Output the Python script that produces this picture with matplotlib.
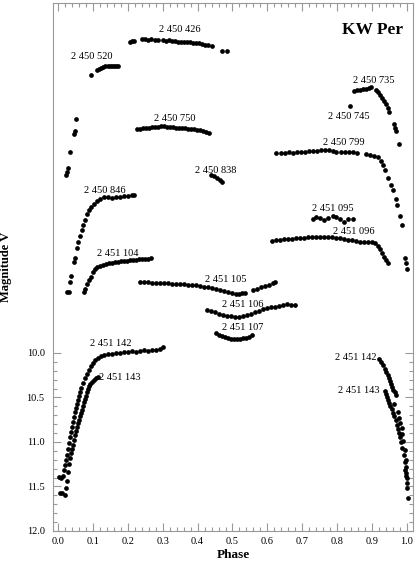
import numpy as np
import matplotlib
matplotlib.use('Agg')
import matplotlib.pyplot as plt
from matplotlib.ticker import FixedLocator, MultipleLocator

plt.rcParams['font.family'] = ['Liberation Serif', 'DejaVu Serif']

# light curves of KW Per, one per night (JD 2 45x xxx), phase / V magnitude
p426 = [0.206, 0.212, 0.218, 0.241, 0.249, 0.258, 0.266, 0.278, 0.287, 0.301, 0.309, 0.318, 0.327, 0.335,
        0.344, 0.352, 0.361, 0.370, 0.378, 0.387, 0.395, 0.404, 0.413, 0.421, 0.430, 0.441, 0.470, 0.484]
m426 = [6.50, 6.49, 6.49, 6.47, 6.47, 6.48, 6.47, 6.48, 6.48, 6.48, 6.49, 6.48, 6.49, 6.49,
        6.50, 6.50, 6.51, 6.51, 6.50, 6.52, 6.52, 6.52, 6.53, 6.54, 6.54, 6.55, 6.61, 6.61]

p520 = [0.095, 0.112, 0.117, 0.123, 0.129, 0.135, 0.143, 0.149, 0.155, 0.161, 0.166, 0.172]
m520 = [6.88, 6.82, 6.81, 6.80, 6.79, 6.78, 6.77, 6.77, 6.78, 6.78, 6.78, 6.77]

p750 = [0.023, 0.026, 0.029, 0.034, 0.046, 0.049, 0.052,
        0.226, 0.235, 0.244, 0.252, 0.261, 0.269, 0.278, 0.287, 0.295, 0.304, 0.312, 0.321, 0.330,
        0.338, 0.347, 0.355, 0.364, 0.372, 0.381, 0.390, 0.398, 0.407, 0.415, 0.424, 0.433]
m750 = [8.00, 7.97, 7.92, 7.74, 7.54, 7.51, 7.37,
        7.48, 7.48, 7.47, 7.47, 7.47, 7.46, 7.46, 7.46, 7.45, 7.45, 7.46, 7.46, 7.46,
        7.47, 7.47, 7.47, 7.47, 7.48, 7.48, 7.48, 7.49, 7.49, 7.51, 7.52, 7.53]

p838 = [0.438, 0.447, 0.456, 0.464, 0.470]
m838 = [8.00, 8.01, 8.03, 8.06, 8.08]

p735 = [0.848, 0.857, 0.865, 0.874, 0.883, 0.891, 0.897, 0.911, 0.917, 0.923, 0.928, 0.934, 0.940,
        0.946, 0.948, 0.963, 0.966, 0.968, 0.977]
m735 = [7.06, 7.05, 7.05, 7.03, 7.03, 7.02, 7.01, 7.05, 7.07, 7.10, 7.14, 7.17, 7.20,
        7.25, 7.29, 7.43, 7.47, 7.51, 7.65]

p745 = [0.837]
m745 = [7.225]

p799 = [0.625, 0.639, 0.650, 0.662, 0.673, 0.685, 0.696, 0.708, 0.719, 0.731, 0.742, 0.754, 0.765, 0.777,
        0.788, 0.797, 0.811, 0.822, 0.834, 0.845, 0.857, 0.883, 0.894, 0.905, 0.917, 0.926, 0.931, 0.937,
        0.946, 0.954, 0.960, 0.968, 0.971, 0.980, 0.986]
m799 = [7.75, 7.75, 7.75, 7.74, 7.75, 7.74, 7.74, 7.74, 7.73, 7.73, 7.73, 7.72, 7.72, 7.72,
        7.73, 7.74, 7.74, 7.74, 7.74, 7.74, 7.75, 7.76, 7.78, 7.79, 7.80, 7.84, 7.89, 7.94,
        8.03, 8.11, 8.17, 8.27, 8.34, 8.46, 8.56]

p846 = [0.026, 0.032, 0.034, 0.037, 0.046, 0.049, 0.054, 0.057, 0.063, 0.069, 0.072, 0.077, 0.083, 0.089,
        0.095, 0.103, 0.112, 0.120, 0.132, 0.143, 0.155, 0.166, 0.178, 0.189, 0.201, 0.212, 0.218]
m846 = [9.32, 9.32, 9.20, 9.14, 8.98, 8.93, 8.82, 8.75, 8.69, 8.62, 8.56, 8.51, 8.44, 8.39,
        8.36, 8.33, 8.29, 8.27, 8.25, 8.25, 8.26, 8.25, 8.25, 8.24, 8.24, 8.23, 8.23]

p095 = [0.731, 0.739, 0.751, 0.762, 0.774, 0.788, 0.797, 0.808, 0.819, 0.831, 0.845]
m095 = [8.49, 8.47, 8.48, 8.51, 8.48, 8.46, 8.47, 8.49, 8.53, 8.49, 8.49]

p096 = [0.613, 0.625, 0.636, 0.648, 0.659, 0.670, 0.682, 0.693, 0.705, 0.716, 0.728, 0.739, 0.751, 0.762,
        0.774, 0.785, 0.797, 0.808, 0.819, 0.831, 0.842, 0.854, 0.865, 0.877, 0.888, 0.900, 0.908, 0.917,
        0.923, 0.928, 0.934, 0.940, 0.946, 0.994, 0.997, 1.000]
m096 = [8.74, 8.73, 8.73, 8.72, 8.72, 8.72, 8.71, 8.71, 8.71, 8.70, 8.70, 8.70, 8.70, 8.70,
        8.70, 8.70, 8.71, 8.71, 8.72, 8.73, 8.73, 8.74, 8.75, 8.75, 8.75, 8.75, 8.76, 8.80,
        8.83, 8.88, 8.92, 8.96, 8.99, 8.93, 8.99, 9.06]

p104 = [0.074, 0.077, 0.083, 0.089, 0.095, 0.100, 0.106, 0.112, 0.120, 0.129, 0.138, 0.146, 0.155,
        0.163, 0.172, 0.181, 0.189, 0.198, 0.206, 0.215, 0.224, 0.232, 0.241, 0.249, 0.258, 0.266]
m104 = [9.32, 9.28, 9.23, 9.18, 9.15, 9.09, 9.06, 9.03, 9.02, 9.01, 9.00, 8.99, 8.99,
        8.98, 8.98, 8.97, 8.97, 8.97, 8.96, 8.96, 8.96, 8.94, 8.94, 8.94, 8.94, 8.93]

p105 = [0.235, 0.246, 0.258, 0.269, 0.281, 0.292, 0.304, 0.315, 0.327, 0.338, 0.350, 0.361, 0.372,
        0.384, 0.395, 0.407, 0.418, 0.430, 0.441, 0.453, 0.464, 0.476, 0.487, 0.499, 0.510, 0.519,
        0.527, 0.536, 0.559, 0.570, 0.582, 0.593, 0.605, 0.616, 0.622]
m105 = [9.20, 9.20, 9.20, 9.21, 9.21, 9.21, 9.21, 9.21, 9.22, 9.22, 9.22, 9.22, 9.24,
        9.24, 9.24, 9.25, 9.26, 9.26, 9.27, 9.28, 9.29, 9.30, 9.31, 9.33, 9.34, 9.34,
        9.33, 9.33, 9.29, 9.28, 9.26, 9.25, 9.24, 9.21, 9.20]

p106 = [0.427, 0.438, 0.450, 0.461, 0.473, 0.484, 0.496, 0.507, 0.519, 0.530, 0.542, 0.553,
        0.564, 0.576, 0.587, 0.599, 0.610, 0.622, 0.633, 0.645, 0.656, 0.668, 0.679]
m106 = [9.52, 9.53, 9.54, 9.56, 9.57, 9.58, 9.58, 9.60, 9.60, 9.58, 9.57, 9.56,
        9.54, 9.53, 9.51, 9.49, 9.48, 9.48, 9.47, 9.46, 9.45, 9.46, 9.46]

p107 = [0.453, 0.461, 0.470, 0.479, 0.487, 0.496, 0.504, 0.513, 0.521, 0.530, 0.539, 0.547, 0.556]
m107 = [9.78, 9.80, 9.81, 9.82, 9.83, 9.84, 9.84, 9.84, 9.84, 9.83, 9.83, 9.82, 9.80]

p142 = [0.003, 0.009, 0.014, 0.017, 0.020, 0.023, 0.026, 0.029, 0.032, 0.034, 0.037, 0.040, 0.043,
        0.046, 0.049, 0.052, 0.054, 0.057, 0.060, 0.063, 0.066, 0.072, 0.077, 0.083, 0.089, 0.095,
        0.100, 0.106, 0.115, 0.123, 0.132, 0.143, 0.155, 0.166, 0.178, 0.189, 0.201, 0.212, 0.224,
        0.235, 0.246, 0.258, 0.269, 0.281, 0.292, 0.301,
        0.920, 0.926, 0.931, 0.937, 0.940, 0.946, 0.948, 0.951, 0.954, 0.957, 0.960, 0.966, 0.968,
        0.963, 0.974, 0.977, 0.980, 0.986, 0.986, 0.989, 0.994, 0.997, 0.997, 0.997, 1.000, 1.003]
m142 = [11.39, 11.40, 11.38, 11.32, 11.26, 11.20, 11.15, 11.08, 11.01, 10.94, 10.89, 10.83, 10.78,
        10.72, 10.66, 10.62, 10.57, 10.53, 10.48, 10.44, 10.39, 10.34, 10.28, 10.24, 10.19, 10.15,
        10.11, 10.08, 10.06, 10.03, 10.02, 10.01, 10.01, 10.00, 10.00, 9.99, 9.99, 9.98, 9.99,
        9.98, 9.97, 9.98, 9.97, 9.97, 9.96, 9.93,
        10.07, 10.10, 10.13, 10.18, 10.21, 10.25, 10.28, 10.31, 10.35, 10.38, 10.42, 10.44, 10.47,
        10.57, 10.66, 10.73, 10.79, 10.84, 10.91, 10.99, 11.09, 11.20, 11.28, 11.35, 11.40, 11.63]

p143 = [0.006, 0.011, 0.020, 0.023, 0.026, 0.029, 0.032, 0.034, 0.037, 0.040, 0.043, 0.046, 0.049,
        0.052, 0.054, 0.057, 0.060, 0.063, 0.066, 0.069, 0.072, 0.074, 0.077, 0.080, 0.083, 0.086,
        0.089, 0.092, 0.097, 0.103, 0.109, 0.115,
        0.937, 0.940, 0.943, 0.946, 0.948, 0.951, 0.957, 0.960, 0.963, 0.968, 0.971, 0.974, 0.977,
        0.980, 0.983, 0.986, 0.991, 0.994, 0.994, 0.997, 1.000, 1.000]
m143 = [11.57, 11.57, 11.60, 11.52, 11.44, 11.34, 11.25, 11.18, 11.12, 11.08, 11.03, 10.98, 10.92,
        10.88, 10.83, 10.79, 10.75, 10.71, 10.67, 10.64, 10.60, 10.55, 10.52, 10.48, 10.44, 10.40,
        10.37, 10.35, 10.33, 10.30, 10.28, 10.27,
        10.43, 10.46, 10.49, 10.53, 10.56, 10.60, 10.63, 10.67, 10.71, 10.75, 10.81, 10.85, 10.90,
        10.94, 11.00, 11.07, 11.15, 11.22, 11.31, 11.38, 11.46, 11.52]

phases = [p426, p520, p750, p838, p735, p745, p799, p846, p095, p096, p104, p105, p106, p107, p142, p143]
mags = [m426, m520, m750, m838, m735, m745, m799, m846, m095, m096, m104, m105, m106, m107, m142, m143]

# night labels
label_txt = ['2 450 426', '2 450 520', '2 450 750', '2 450 838', '2 450 735', '2 450 745', '2 450 799',
             '2 450 846', '2 451 095', '2 451 096', '2 451 104', '2 451 105', '2 451 106', '2 451 107',
             '2 451 142', '2 451 143', '2 451 142', '2 451 143']
label_x = [0.350, 0.097, 0.335, 0.453, 0.905, 0.834, 0.819, 0.135, 0.788, 0.848, 0.172, 0.481, 0.530, 0.530,
           0.152, 0.178, 0.854, 0.862]
label_y = [6.37, 6.67, 7.36, 7.95, 6.94, 7.34, 7.64, 8.17, 8.38, 8.64, 8.88, 9.17, 9.45, 9.71,
           9.89, 10.27, 10.05, 10.42]

fig = plt.figure(figsize=(4.16, 5.61), dpi=100)
ax = fig.add_axes([0.1274, 0.0535, 0.8654, 0.9412])

for p, m in zip(phases, mags):
    ax.plot(p, m, 'o', color='black', ms=3.4, mew=0)

for t, x, y in zip(label_txt, label_x, label_y):
    ax.text(x, y, t, fontsize=7.5, ha='center', va='center')

ax.text(0.989, 6.37, 'KW Per', fontsize=12.5, fontweight='bold', ha='right', va='center')

ax.set_xlim(-0.0143, 1.0172)
ax.set_ylim(12.0, 6.067)

ax.xaxis.set_major_locator(MultipleLocator(0.1))
ax.xaxis.set_minor_locator(MultipleLocator(0.02))
ax.yaxis.set_major_locator(FixedLocator([10.0, 10.5, 11.0, 11.5, 12.0]))
ax.yaxis.set_minor_locator(FixedLocator([10.1, 10.2, 10.3, 10.4, 10.6, 10.7, 10.8, 10.9,
                                         11.1, 11.2, 11.3, 11.4, 11.6, 11.7, 11.8, 11.9]))
ax.xaxis.set_major_formatter(matplotlib.ticker.FormatStrFormatter('%.1f'))
ax.yaxis.set_major_formatter(matplotlib.ticker.FormatStrFormatter('%.1f'))

ax.tick_params(which='both', direction='in', top=True, right=True, color='#999999',
               labelsize=7.5, width=0.8)
ax.tick_params(which='major', length=6)
ax.tick_params(which='minor', length=3)
ax.tick_params(axis='y', pad=6)
ax.tick_params(axis='x', pad=4)
for s in ax.spines.values():
    s.set_color('#999999')
    s.set_linewidth(0.8)

fig.text(233 / 416, 1 - 555 / 561, 'Phase', fontsize=9.5, fontweight='bold', ha='center', va='center')
fig.text(6 / 416, 1 - 267 / 561, 'Magnitude V', fontsize=9, fontweight='bold', rotation=90,
         ha='center', va='center')

fig.savefig('out.png', dpi=100)
